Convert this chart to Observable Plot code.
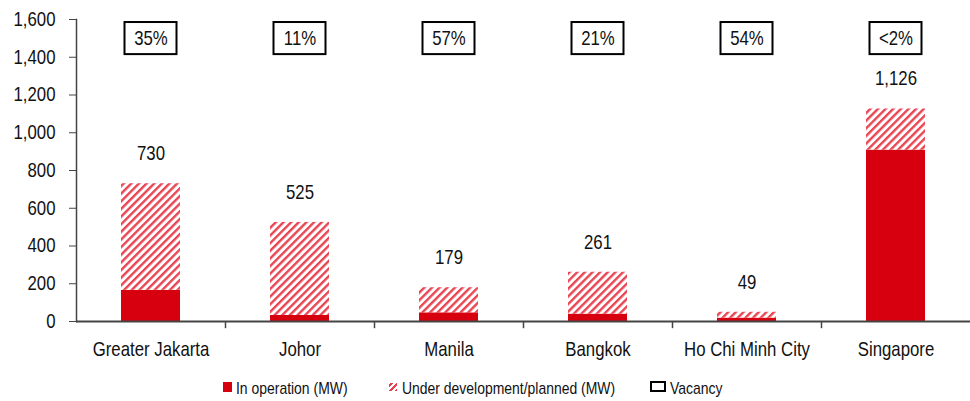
<!DOCTYPE html>
<html>
<head>
<meta charset="utf-8">
<script src="https://cdn.jsdelivr.net/npm/d3@7"></script>
<script src="https://cdn.jsdelivr.net/npm/@observablehq/plot@0.6"></script>
<style>
  html, body { margin: 0; padding: 0; background: #fff; }
  #wrap { position: relative; width: 970px; height: 401px; font-family: "Liberation Sans", Arial, sans-serif; }
  .leg { position: absolute; top: 380px; font-size: 17px; color: #111; line-height: 18px; white-space: nowrap; transform: scaleX(0.82); transform-origin: left center; }
  .sw { position: absolute; box-sizing: border-box; }
</style>
</head>
<body>
<div id="wrap"></div>
<script>
const cities = ["Greater Jakarta", "Johor", "Manila", "Bangkok", "Ho Chi Minh City", "Singapore"];
const inOperation = [165, 32, 46, 39, 18, 908];
const totals = [730, 525, 179, 261, 49, 1126];
const vacancy = ["35%", "11%", "57%", "21%", "54%", "<2%"];
const yTicks = [0, 200, 400, 600, 800, 1000, 1200, 1400, 1600];

const S1 = "In operation (MW)";
const S2 = "Under development/planned (MW)";

const rows = [];
cities.forEach((c, i) => {
  rows.push({city: c, series: S1, value: inOperation[i]});
  rows.push({city: c, series: S2, value: totals[i] - inOperation[i]});
});
const totalRows = cities.map((c, i) => ({city: c, total: totals[i]}));
const vacRows = cities.map((c, i) => ({city: c, vac: vacancy[i]}));
const boundaries = cities.slice(1);

const font = '"Liberation Sans", Arial, sans-serif';
const axisColor = "#444";
const W = 970, bandW = (W - 76) / 6;

const chart = Plot.plot({
  width: W,
  height: 365,
  marginLeft: 76,
  marginRight: 0,
  marginTop: 19,
  marginBottom: 44,
  style: {fontFamily: font, fontSize: "20px", color: "#111", background: "#fff"},
  x: {domain: cities, padding: 0, label: null},
  y: {domain: [0, 1600], label: null},
  color: {domain: [S1, S2], range: ["#d7000f", "url(#hatchRed)"]},
  marks: [
    Plot.barY(rows, {x: "city", y: "value", fill: "series", order: [S1, S2], insetLeft: 45, insetRight: 45}),
    Plot.text(totalRows, {x: "city", y: "total", text: d => d3.format(",")(d.total), dy: -30, fontSize: 20, fill: "#111"}),
    Plot.barY(vacRows, {x: "city", y1: 1414, y2: 1584, fill: "#fff", stroke: "#000", strokeWidth: 2, insetLeft: 48.5, insetRight: 48.5}),
    Plot.text(vacRows, {x: "city", y: 1499, text: "vac", fontSize: 20, fill: "#111"}),
    Plot.ruleY([0], {stroke: axisColor, strokeWidth: 2}),
    Plot.ruleX(boundaries, {x: d => d, dx: -bandW / 2, y1: 0, y2: -38, stroke: axisColor, strokeWidth: 1.5}),
    Plot.frame({anchor: "left", stroke: axisColor, strokeWidth: 1.5}),
    Plot.axisY({ticks: yTicks, tickFormat: d3.format(","), tickSize: 7, tickPadding: 14, stroke: axisColor, fontSize: 20, label: null}),
    Plot.axisX({tickSize: 0, tickPadding: 20, fontSize: 20, label: null})
  ]
});

// hatch pattern definition
const svgNS = "http://www.w3.org/2000/svg";
const defs = document.createElementNS(svgNS, "defs");
defs.innerHTML = `<pattern id="hatchRed" patternUnits="userSpaceOnUse" width="5.4" height="5.4" patternTransform="rotate(45)">
  <rect width="5.4" height="5.4" fill="#fff"/>
  <rect width="2.4" height="5.4" fill="#e84552"/>
</pattern>`;
chart.insertBefore(defs, chart.firstChild);

// narrow the text horizontally (Arial Narrow look)
chart.querySelectorAll("text").forEach(t => {
  const x = +t.getAttribute("x") || 0;
  const y = +t.getAttribute("y") || 0;
  const tr = t.getAttribute("transform") || "";
  t.setAttribute("transform", `${tr} translate(${x},${y}) scale(0.84,1) translate(${-x},${-y})`);
});

const wrap = document.getElementById("wrap");
wrap.appendChild(chart);

// legend (HTML, below the SVG)
function addSwatch(left, top, w, h, style) {
  const d = document.createElement("div");
  d.className = "sw";
  d.style.left = left + "px"; d.style.top = top + "px";
  d.style.width = w + "px"; d.style.height = h + "px";
  Object.assign(d.style, style);
  wrap.appendChild(d);
}
function addText(left, text) {
  const s = document.createElement("span");
  s.className = "leg";
  s.style.left = left + "px";
  s.textContent = text;
  wrap.appendChild(s);
}
addSwatch(223, 382, 9, 10, {background: "#d7000f"});
addText(236, S1);
addSwatch(389, 383, 8, 8, {background: "repeating-linear-gradient(-45deg, #e8414e 0 2px, #fff 2px 4px)"});
addText(402, S2);
addSwatch(650, 381, 16, 11, {border: "2px solid #000", background: "#fff"});
addText(670, "Vacancy");
</script>
</body>
</html>
